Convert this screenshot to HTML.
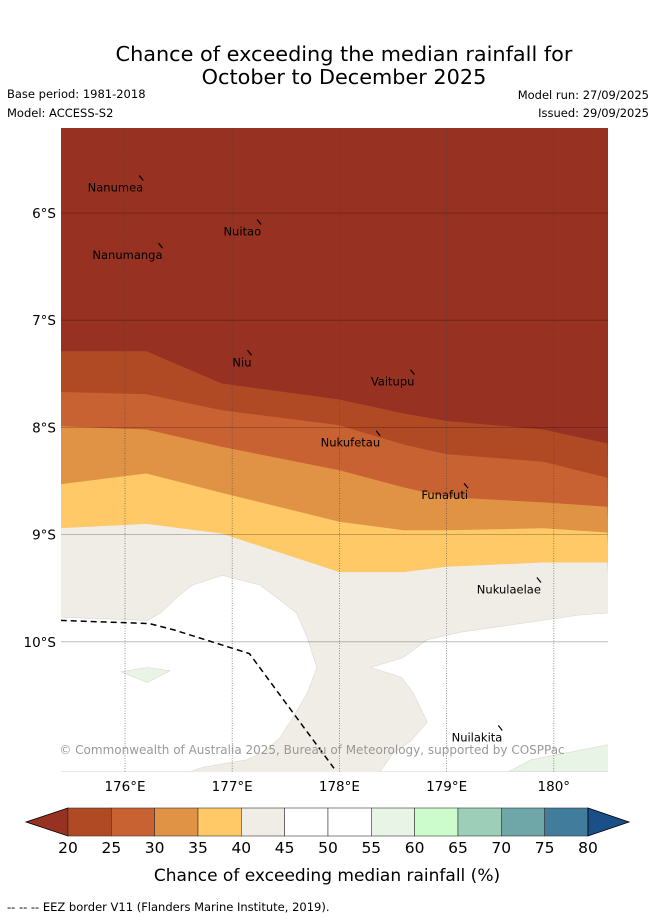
<!DOCTYPE html>
<html><head><meta charset="utf-8"><style>
body{margin:0;background:#fff;font-family:"Liberation Sans","DejaVu Sans",sans-serif;}
svg text{font-family:"DejaVu Sans","Liberation Sans",sans-serif;}
</style></head><body>
<svg id="chart" width="655" height="919" viewBox="0 0 655 919">
<text x="344" y="61" font-size="20.8" text-anchor="middle">Chance of exceeding the median rainfall for</text>
<text x="344" y="84" font-size="20.8" text-anchor="middle">October to December 2025</text>
<text x="7" y="98" font-size="11.5">Base period: 1981-2018</text>
<text x="7" y="117" font-size="11.5">Model: ACCESS-S2</text>
<text x="649" y="99" font-size="11.5" text-anchor="end">Model run: 27/09/2025</text>
<text x="649" y="117" font-size="11.5" text-anchor="end">Issued: 29/09/2025</text>
<defs><clipPath id="mapclip"><rect x="61" y="128" width="547" height="644"/></clipPath></defs>
<g id="map" clip-path="url(#mapclip)"></g>
<g id="axes"></g>
<g id="cbar"></g>
<text x="327" y="881" font-size="17" text-anchor="middle">Chance of exceeding median rainfall (%)</text>
<text x="7" y="911" font-size="11.5">-- -- -- EEZ border V11 (Flanders Marine Institute, 2019).</text>
</svg>
<script>
// ---- data ----
const boundaryLons = [175.4, 176.2, 176.9, 178.0, 178.6, 179.0, 179.9, 180.5];
const b20Lats = [7.29, 7.29, 7.59, 7.74, 7.87, 7.94, 8.02, 8.15];
const b25Lats = [7.67, 7.69, 7.84, 7.98, 8.16, 8.25, 8.32, 8.47];
const b30Lats = [7.99, 8.02, 8.18, 8.40, 8.56, 8.65, 8.70, 8.74];
const b35Lats = [8.53, 8.43, 8.61, 8.88, 8.96, 8.96, 8.94, 8.98];
const b40Lats = [8.94, 8.90, 8.99, 9.35, 9.35, 9.30, 9.26, 9.26];
const whiteLeftLons = [175.39,176.21,176.33,176.49,176.63,176.91,177.26,177.60,177.70,177.79,177.70,177.57,177.45,177.32,177.14,176.73,176.61,175.39];
const whiteLeftLats = [9.77,9.80,9.73,9.58,9.47,9.38,9.47,9.73,9.96,10.24,10.48,10.70,10.89,11.01,11.10,11.17,11.21,11.21];
const whiteRightLons = [180.51,180.24,179.13,178.82,178.59,178.29,178.58,178.69,178.82,178.66,178.50,178.38,180.51];
const whiteRightLats = [9.73,9.75,9.91,9.98,10.15,10.24,10.33,10.48,10.75,10.93,11.04,11.21,11.21];
const greenALons = [175.96,176.21,176.42,176.21];
const greenALats = [10.28,10.24,10.27,10.38];
const greenBLons = [179.58,179.79,180.51,180.51];
const greenBLats = [11.21,11.10,10.96,11.21];
const eezLons = [175.4,176.23,176.46,177.16,177.95];
const eezLats = [9.80,9.83,9.89,10.11,11.18];
const lonTicks = [176,177,178,179,180];
const latTicks = [6,7,8,9,10];
const islandNames = ["Nanumea","Nuitao","Nanumanga","Niu","Vaitupu","Nukufetau","Funafuti","Nukulaelae","Nuilakita"];
const islandLons = [176.17,177.27,176.35,177.18,178.70,178.38,179.20,179.88,179.52];
const islandLats = [5.80,6.21,6.43,7.43,7.61,8.18,8.67,9.55,10.93];
const levels = [20,25,30,35,40,45,50,55,60,65,70,75,80];
const levelColors = ["#b04a25","#c96232","#e09344","#fec966","#f0ece6","#ffffff","#ffffff","#e8f4e6","#ccfccc","#9dcfb8","#6fa6a8","#427c9c"];
// ---- axes ----
const X = lon => 125 + (lon-176)*107.2;
const Y = lat => 213 + (lat-6)*107.2;
const NS="http://www.w3.org/2000/svg";
function mk(tag, attrs, parent){const e=document.createElementNS(NS,tag);for(const k in attrs)e.setAttribute(k,attrs[k]);parent.appendChild(e);return e;}
const map=document.getElementById('map'), axes=document.getElementById('axes'), cbar=document.getElementById('cbar');
function pts(lons,lats){return lons.map((l,i)=>X(l).toFixed(1)+','+Y(lats[i]).toFixed(1)).join(' ');}
let r=mk('rect',{x:61,y:128,width:547,height:644,fill:'#973121'},map);


const bands=[[b20Lats,'#b04a25','band-20-25'],[b25Lats,'#c96232','band-25-30'],[b30Lats,'#e09344','band-30-35'],[b35Lats,'#fec966','band-35-40'],[b40Lats,'#f0ece6','band-40-45']];
bands.forEach(b=>{
  const p=pts(boundaryLons,b[0])+' '+X(180.6)+',780 '+X(175.3)+',780';
  const e=mk('polygon',{points:p,fill:b[1]},map);
  
  
});
[[whiteLeftLons,whiteLeftLats,'#ffffff','white-region-west'],[whiteRightLons,whiteRightLats,'#ffffff','white-region-east'],[greenALons,greenALats,'#e8f4e6','green-patch-west'],[greenBLons,greenBLats,'#e8f4e6','green-patch-east']].forEach(w=>{
  const e=mk('polygon',{points:pts(w[0],w[1]),fill:w[2],stroke:'#dcd8d2','stroke-width':0.6},map);
  
  
});
lonTicks.forEach(l=>{
  const e=mk('line',{x1:X(l),x2:X(l),y1:128,y2:772,stroke:'#444','stroke-width':0.8,'stroke-dasharray':'1,1.5','stroke-opacity':0.7},map);
  
  
  const t=mk('text',{x:X(l),y:791,'font-size':13.5,'text-anchor':'middle'},axes);
  t.textContent=l+'°'+(l===180?'':'E');
  
  
});
latTicks.forEach(l=>{
  const e=mk('line',{x1:61,x2:608,y1:Y(l),y2:Y(l),stroke:'#000','stroke-width':0.8,'stroke-opacity':0.3},map);
  
  
  const t=mk('text',{x:56,y:Y(l)+5,'font-size':13.5,'text-anchor':'end'},axes);
  t.textContent=l+'°S';
  
  
});
let eez=mk('polyline',{points:pts(eezLons,eezLats),fill:'none',stroke:'#000','stroke-width':1.5,'stroke-dasharray':'6,4'},map);


islandNames.forEach((n,i)=>{
  const x=X(islandLons[i]), y=Y(islandLats[i]);
  const m=mk('line',{x1:x-4,y1:y-16,x2:x,y2:y-11,stroke:'#000','stroke-width':1.2},map);
  
  
  const t=mk('text',{x:x,y:y,'font-size':11.5,'text-anchor':'end'},map);
  t.textContent=n;
  
  
});
let cp=mk('text',{x:312,y:754,'font-size':12,'text-anchor':'middle',fill:'#999'},map);
cp.textContent='© Commonwealth of Australia 2025, Bureau of Meteorology, supported by COSPPac';


// colorbar
const cx0=68,cw=43.33,cy=808,ch=28;
let lt=mk('polygon',{points:`${cx0},${cy} 26,${cy+ch/2} ${cx0},${cy+ch}`,fill:'#973121',stroke:'#000','stroke-width':0.8},cbar);


levelColors.forEach((c,i)=>{
  const e=mk('rect',{x:cx0+i*cw,y:cy,width:cw,height:ch,fill:c,stroke:'#333','stroke-width':0.6},cbar);
  
  
});
const cx1=cx0+12*cw;
let rt=mk('polygon',{points:`${cx1},${cy} 629,${cy+ch/2} ${cx1},${cy+ch}`,fill:'#1a4f87',stroke:'#000','stroke-width':0.8},cbar);


levels.forEach((v,i)=>{
  const t=mk('text',{x:cx0+i*cw,y:853,'font-size':15.5,'text-anchor':'middle'},cbar);
  t.textContent=v;
  
  
});
</script>
</body></html>
